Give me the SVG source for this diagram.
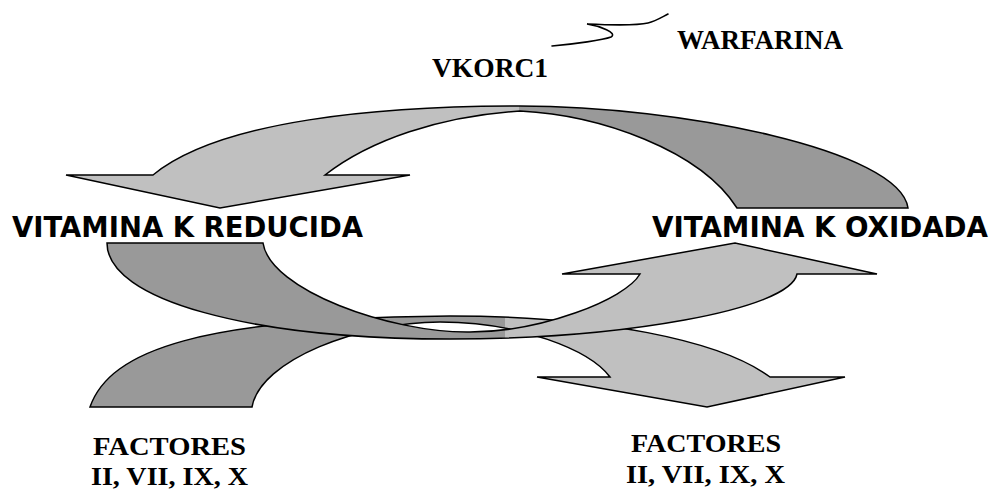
<svg xmlns="http://www.w3.org/2000/svg" xmlns:xlink="http://www.w3.org/1999/xlink" width="991" height="491" viewBox="0 0 991 491">
<defs>
<style>
.light{fill:#c0c0c0}
.dark{fill:#999999}
.edge{fill:none;stroke:#000;stroke-width:1.5;stroke-linejoin:miter}
.lbl{font-family:"DejaVu Sans",Verdana,sans-serif;font-weight:bold;font-size:27.5px;fill:#000}
.tms{font-family:"Liberation Serif","Times New Roman",serif;font-weight:bold;fill:#000}
.fac{font-size:26px}
.wave{fill:none;stroke:#000;stroke-width:1.6;stroke-linecap:round}
</style>
<clipPath id="cl"><rect x="0" y="0" width="505" height="491"/></clipPath>
<clipPath id="cr"><rect x="505" y="0" width="486" height="491"/></clipPath>
<clipPath id="tl"><rect x="0" y="0" width="519" height="491"/></clipPath>
<clipPath id="tr"><rect x="519" y="0" width="472" height="491"/></clipPath>
<path id="topband" d="M153,175 C220,120 380,106 520,106 C680,106 900,150 908,208 L737,208 C700,150 600,115 520,111 C440,116 370,140 325,175 L410,175 L220,208 L66,175 Z"/>
<path id="capband" d="M90,407 C110,350 200,318 450,316 C600,316 720,340 770,377 L845,377 L707,407 L537,377 L610,377 C590,350 520,322 440,322 C360,322 260,360 252,407 Z"/>
<path id="cupband" d="M107,243 L263,243 C270,290 390,333 470,332 C540,332 625,300 640,274 L562,274 L735,243 L877,274 L797,274 C790,310 620,339 450,339 C250,339 107,300 107,243 Z"/>
</defs>
<rect width="991" height="491" fill="#fff"/>

<g id="connectors">
  <g id="arrow-top">
    <use xlink:href="#topband" href="#topband" class="light" clip-path="url(#tl)"/>
    <use xlink:href="#topband" href="#topband" class="dark" clip-path="url(#tr)"/>
    <use xlink:href="#topband" href="#topband" class="edge"/>
  </g>
  <g id="arrow-factores">
    <use xlink:href="#capband" href="#capband" class="dark" clip-path="url(#cl)"/>
    <use xlink:href="#capband" href="#capband" class="light" clip-path="url(#cr)"/>
    <use xlink:href="#capband" href="#capband" class="edge"/>
  </g>
  <g id="arrow-oxidada">
    <use xlink:href="#cupband" href="#cupband" class="dark" clip-path="url(#cl)"/>
    <use xlink:href="#cupband" href="#cupband" class="light" clip-path="url(#cr)"/>
    <use xlink:href="#cupband" href="#cupband" class="edge"/>
  </g>
  <path id="inhibition" class="wave" d="M552,46 C575,44 603,40 611,37 C618,33 600,26 587,24 C610,25 635,26 648,23 C656,21 662,17 668,14"/>
</g>

<g id="node-vkorc1"><text class="tms" x="432" y="77" font-size="27.5">VKORC1</text></g>
<g id="node-warfarina"><text class="tms" x="677" y="49" font-size="27">WARFARINA</text></g>
<g id="node-reducida"><text class="lbl" x="12" y="237" textLength="351" lengthAdjust="spacingAndGlyphs">VITAMINA K REDUCIDA</text></g>
<g id="node-oxidada"><text class="lbl" x="652" y="237" textLength="336" lengthAdjust="spacingAndGlyphs">VITAMINA K OXIDADA</text></g>
<g id="node-factores-left">
  <text class="tms fac" x="93" y="455" textLength="153" lengthAdjust="spacingAndGlyphs">FACTORES</text>
  <text class="tms fac" x="91" y="485" textLength="157" lengthAdjust="spacingAndGlyphs">II, VII, IX, X</text>
</g>
<g id="node-factores-right">
  <text class="tms fac" x="631" y="452" textLength="150" lengthAdjust="spacingAndGlyphs">FACTORES</text>
  <text class="tms fac" x="626" y="482.5" textLength="159" lengthAdjust="spacingAndGlyphs">II, VII, IX, X</text>
</g>
</svg>
